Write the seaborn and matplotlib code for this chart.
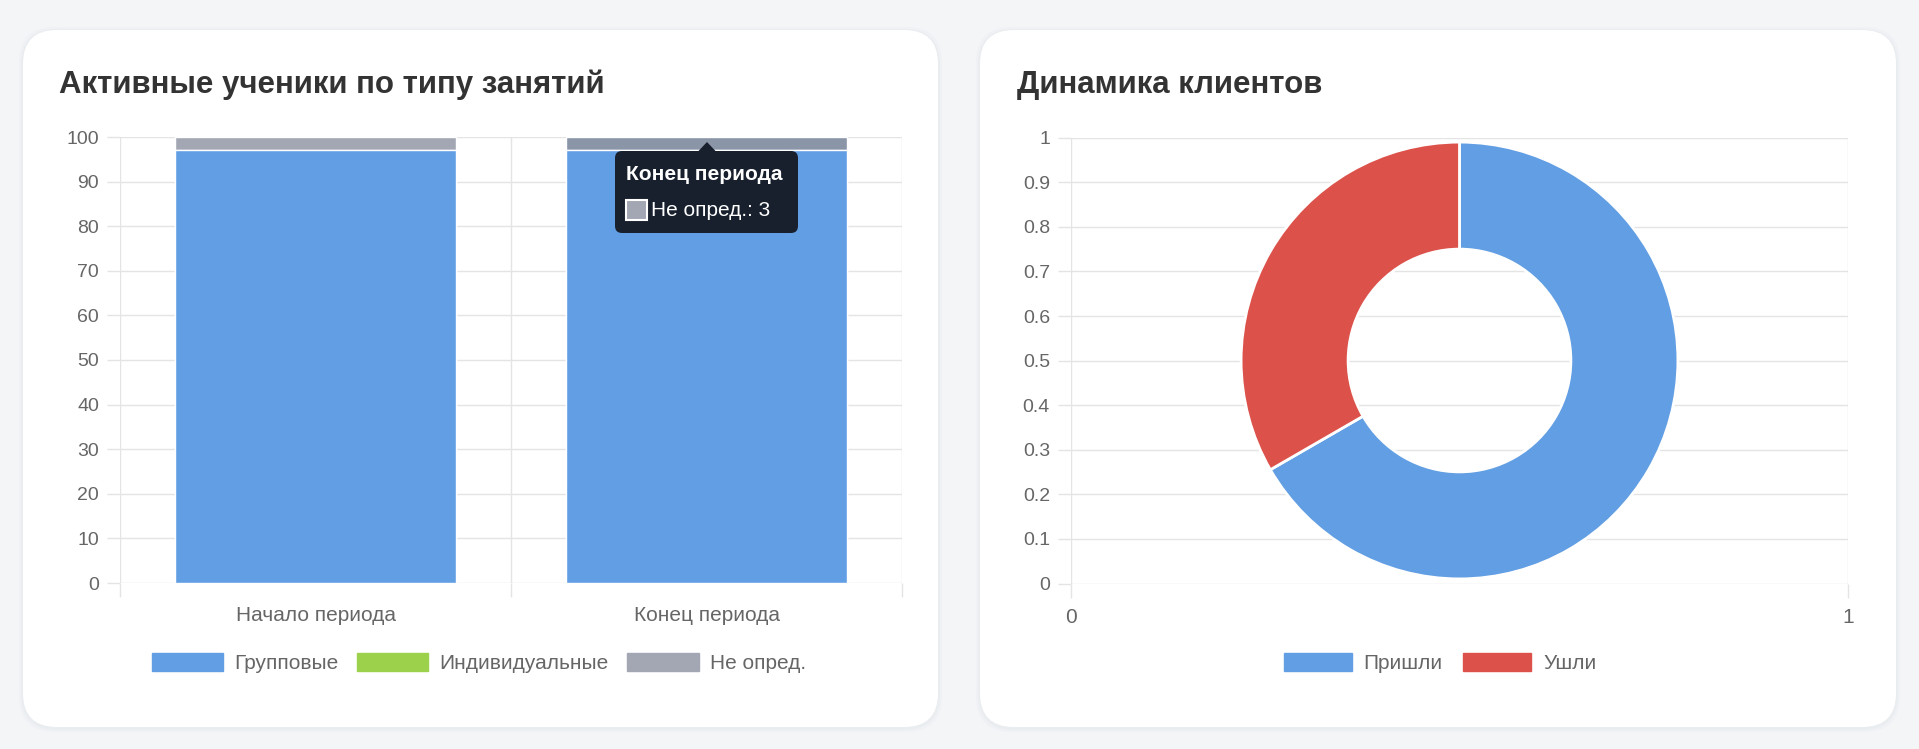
import matplotlib
matplotlib.use('Agg')
import matplotlib.pyplot as plt
import matplotlib.patches as mpatches
import seaborn as sns
import pandas as pd

W, H = 1919, 749

# bar chart data (active students by lesson type)
periods = ['Начало периода', 'Конец периода']
group_counts = [97, 97]
individual_counts = [0, 0]
undefined_counts = [3, 3]
bar_labels = ['Групповые', 'Индивидуальные', 'Не опред.']
left_yticks = list(range(0, 101, 10))

# doughnut data (client dynamics)
client_labels = ['Пришли', 'Ушли']
client_counts = [2, 1]
right_yticks = [i / 10 for i in range(11)]
right_ytick_labels = ['0', '0.1', '0.2', '0.3', '0.4', '0.5', '0.6', '0.7', '0.8', '0.9', '1']
right_xticks = [0, 1]

BLUE = '#629ee3'
GREEN = '#9cd24b'
GRAY = '#a2a7b3'
GRAY_HOVER = '#8a95a8'
RED = '#dc524b'
GRID = '#e4e4e4'
TICK = '#666666'
TITLE = '#333333'
BG = '#f3f5f7'

sns.set_theme(style='white')
plt.rcParams['font.family'] = ['Liberation Sans', 'DejaVu Sans']


def fx(x):
    return x / W


def fy(y):
    return 1 - y / H


def inch(x, y):
    return x / 100, (H - y) / 100


fig = plt.figure(figsize=(W / 100, H / 100), dpi=100, facecolor=BG)

# cards
for x0, x1 in [(23, 938), (980, 1896)]:
    for grow, col in [(4, '#eff1f4'), (2, '#eaedf0')]:
        sh = mpatches.FancyBboxPatch(inch(x0 - grow, 727 + grow + 1), (x1 - x0 + 2 * grow) / 100,
                                     (727 - 30 + 2 * grow) / 100,
                                     boxstyle='round,pad=0,rounding_size=0.36',
                                     transform=fig.dpi_scale_trans, fc=col, ec='none', zorder=-3)
        fig.add_artist(sh)
    card = mpatches.FancyBboxPatch(inch(x0, 727), (x1 - x0) / 100, (727 - 30) / 100,
                                   boxstyle='round,pad=0,rounding_size=0.34',
                                   transform=fig.dpi_scale_trans, fc='white', ec='none', zorder=-2)
    fig.add_artist(card)

fig.text(fx(59), fy(93), 'Активные ученики по типу занятий', fontsize=22.5, color=TITLE,
         weight='bold', va='baseline')
fig.text(fx(1017), fy(93), 'Динамика клиентов', fontsize=22.5, color=TITLE,
         weight='bold', va='baseline')

# ---- stacked bar chart ----
df = pd.DataFrame({'period': periods, 'group': group_counts,
                   'individual': individual_counts, 'undefined': undefined_counts})
df['grp_ind'] = df['group'] + df['individual']
df['total'] = df['grp_ind'] + df['undefined']

ax1 = fig.add_axes([fx(120), fy(583), (902 - 120) / W, (583 - 137) / H])
sns.barplot(data=df, x='period', y='total', hue='period', palette=[GRAY, GRAY_HOVER],
            width=0.72, saturation=1, errorbar=None, legend=False, ax=ax1)
sns.barplot(data=df, x='period', y='grp_ind', color=GREEN, width=0.72, saturation=1,
            errorbar=None, ax=ax1)
sns.barplot(data=df, x='period', y='group', color=BLUE, width=0.72, saturation=1,
            errorbar=None, ax=ax1)
ax1.set_xlim(-0.5, 1.5)
ax1.set_ylim(0, 100)
ax1.set_yticks(left_yticks)
ax1.set_xticks([-0.5, 0.5, 1.5], minor=True)
ax1.set_xlabel('')
ax1.set_ylabel('')
ax1.set_axisbelow(True)
ax1.yaxis.grid(True, color=GRID, lw=1)
ax1.xaxis.grid(True, which='minor', color=GRID, lw=1)
ax1.xaxis.grid(False, which='major')
ax1.tick_params(axis='y', length=9.4, width=1, color=GRID, pad=5.8, labelsize=14, labelcolor=TICK, left=True)
ax1.tick_params(axis='x', which='major', length=0, pad=16.5, labelsize=15, labelcolor=TICK)
ax1.tick_params(axis='x', which='minor', length=10, width=1, color=GRID, bottom=True)
for s in ax1.spines.values():
    s.set_visible(False)

# ---- doughnut over cartesian axes ----
ax2 = fig.add_axes([fx(1071), fy(583.5), (1848 - 1071) / W, (583.5 - 137.7) / H])
ax2.set_xlim(0, 1)
ax2.set_ylim(0, 1)
ax2.set_yticks(right_yticks)
ax2.set_yticklabels(right_ytick_labels)
ax2.set_xticks(right_xticks)
ax2.set_xticklabels([str(v) for v in right_xticks])
ax2.grid(True, color=GRID, lw=1)
ax2.tick_params(axis='y', length=9.4, width=1, color=GRID, pad=5.8, labelsize=14, labelcolor=TICK, left=True)
ax2.tick_params(axis='x', length=10, width=1, color=GRID, pad=7.5, labelsize=15, labelcolor=TICK, bottom=True)
for s in ax2.spines.values():
    s.set_visible(False)

ax3 = fig.add_axes([fx(1459.5 - 219.5), fy(360.5 + 219.5), 439 / W, 439 / H])
ax3.pie(client_counts, colors=[BLUE, RED], startangle=90, counterclock=False, radius=1,
        wedgeprops=dict(width=0.49, edgecolor='white', linewidth=2))
ax3.set_xlim(-1.005, 1.005)
ax3.set_ylim(-1.005, 1.005)
ax3.axis('off')

# ---- legends ----
h1 = [mpatches.Patch(color=c, label=l) for c, l in zip([BLUE, GREEN, GRAY], bar_labels)]
fig.legend(handles=h1, loc='center', bbox_to_anchor=(fx(479), fy(663)), ncol=3, frameon=False,
           fontsize=15, handlelength=3.41, handleheight=1.0, handletextpad=0.53,
           columnspacing=0.9, labelcolor=TICK)
h2 = [mpatches.Patch(color=c, label=l) for c, l in zip([BLUE, RED], client_labels)]
fig.legend(handles=h2, loc='center', bbox_to_anchor=(fx(1440), fy(663)), ncol=2, frameon=False,
           fontsize=15, handlelength=3.27, handleheight=1.0, handletextpad=0.55,
           columnspacing=1.0, labelcolor=TICK)

# ---- tooltip on the second bar ----
TIP = '#18202d'
tip = mpatches.FancyBboxPatch(inch(615, 233), 1.83, 0.82, boxstyle='round,pad=0,rounding_size=0.07',
                              transform=fig.dpi_scale_trans, fc=TIP, ec='none', zorder=6)
fig.add_artist(tip)
arrow = mpatches.Polygon([inch(698, 151.5), inch(716, 151.5), inch(707, 142)], closed=True,
                         transform=fig.dpi_scale_trans, fc=TIP, ec='none', zorder=6)
fig.add_artist(arrow)
fig.text(fx(626), fy(174), periods[1], color='white', fontsize=15, weight='bold', va='center',
         zorder=7)
sq = mpatches.Rectangle(inch(626, 220), 0.21, 0.20, transform=fig.dpi_scale_trans,
                        fc=GRAY, ec='white', lw=1.5, zorder=7)
fig.add_artist(sq)
fig.text(fx(651), fy(211), f'{bar_labels[2]}: {undefined_counts[1]}', color='white', fontsize=15,
         va='center', zorder=7)

fig.savefig('out.png', dpi=100, facecolor=BG)
